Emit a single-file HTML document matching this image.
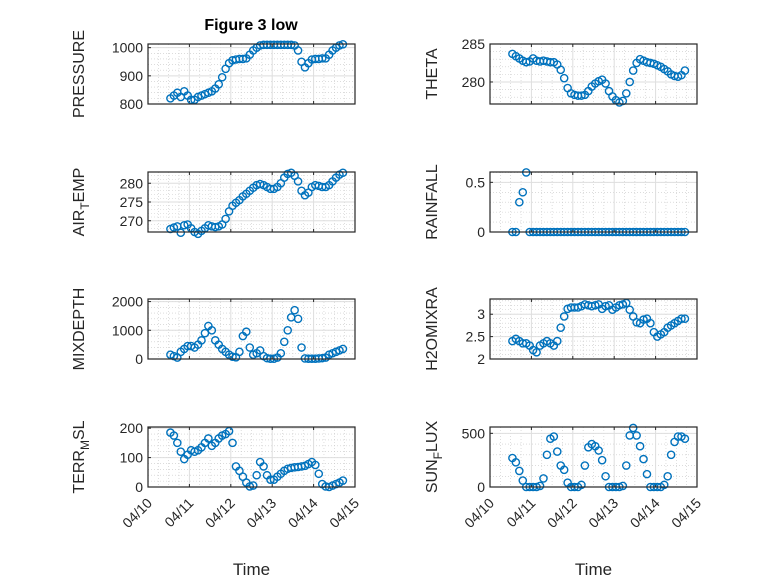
<!DOCTYPE html>
<html><head><meta charset="utf-8"><style>
body{margin:0;background:#fff}
svg text{font-family:"Liberation Sans",sans-serif;fill:#262626}
</style></head><body>
<svg id="fig" width="778" height="583" viewBox="0 0 778 583" xmlns="http://www.w3.org/2000/svg">
<rect width="778" height="583" fill="#fff"/>
<text x="251" y="30" text-anchor="middle" font-size="16" font-weight="bold" style="fill:#000">Figure 3 low</text>
</svg>
<script>
const hours=[13,15,17,19,21,23,25,27,29,31,33,35,37,39,41,43,45,47,49,51,53,55,57,59,61,63,65,67,69,71,73,75,77,79,81,83,85,87,89,91,93,95,97,99,101,103,105,107,109,111,113];
const xTickLabels=["04/10","04/11","04/12","04/13","04/14","04/15"];
const pressure=[820,830,840,825,845,830,815,815,825,830,835,840,845,855,870,895,925,945,955,958,960,960,962,975,990,1000,1008,1010,1010,1010,1010,1010,1010,1010,1010,1010,1008,990,950,930,945,958,960,960,962,962,975,990,1000,1008,1012];
const theta=[283.7,283.4,283.1,282.8,282.6,282.7,283.1,282.8,282.7,282.8,282.7,282.6,282.6,282.3,281.6,280.5,279.2,278.5,278.3,278.2,278.2,278.3,278.8,279.4,279.8,280.1,280.3,279.8,278.8,278.1,277.6,277.3,277.5,278.5,280.0,281.5,282.5,283.0,282.8,282.6,282.5,282.4,282.2,282.0,281.7,281.4,281.0,280.8,280.7,280.9,281.5];
const airTemp=[267.8,268.2,268.5,266.8,268.8,269.0,268.0,267.0,266.5,267.3,268.0,268.8,268.5,268.3,268.5,269.0,270.5,272.5,274.0,274.8,275.5,276.5,277.2,278.0,278.8,279.5,279.8,279.5,279.0,278.5,278.5,279.0,280.0,281.5,282.5,282.8,282.0,280.5,278.0,276.8,277.5,279.0,279.5,279.3,279.0,279.0,279.5,280.5,281.5,282.3,282.8];
const rainfall=[0,0,0.3,0.4,0.6,0,0,0,0,0,0,0,0,0,0,0,0,0,0,0,0,0,0,0,0,0,0,0,0,0,0,0,0,0,0,0,0,0,0,0,0,0,0,0,0,0,0,0,0,0,0];
const mixDepth=[150,100,50,250,350,450,450,400,500,650,900,1150,1000,650,500,350,250,150,80,60,250,800,950,400,150,200,300,100,30,10,10,50,200,600,1000,1450,1700,1400,400,20,10,10,10,20,30,50,150,200,250,300,350];
const h2oMix=[2.4,2.45,2.4,2.35,2.35,2.3,2.2,2.15,2.3,2.35,2.4,2.35,2.3,2.4,2.7,2.95,3.12,3.15,3.15,3.15,3.18,3.22,3.2,3.18,3.2,3.22,3.12,3.18,3.2,3.1,3.15,3.2,3.22,3.25,3.1,2.95,2.82,2.8,2.88,2.9,2.8,2.6,2.5,2.55,2.6,2.7,2.75,2.8,2.85,2.9,2.9];
const terrMsl=[185,175,150,120,95,110,125,120,125,135,150,165,140,150,165,175,180,190,150,70,55,35,15,2,5,40,85,70,40,25,25,35,45,55,62,65,67,68,70,72,78,85,75,45,10,2,0,5,10,15,22];
const sunFlux=[270,230,150,60,0,0,0,0,10,80,300,450,470,330,200,160,40,0,0,0,20,200,370,400,380,340,250,100,0,0,0,0,10,200,480,550,480,380,260,120,0,0,0,0,20,100,300,420,470,470,450];
const ticksPressure=[800,900,1000], ticksTheta=[280,285], ticksAir=[270,275,280], ticksRain=[0,0.5], ticksMix=[0,1000,2000], ticksH2o=[2,2.5,3], ticksTerr=[0,100,200], ticksSun=[0,500];

const NS="http://www.w3.org/2000/svg";
const svg=document.getElementById('fig');
function mk(tag,attrs,parent){const e=document.createElementNS(NS,tag);for(const k in attrs)e.setAttribute(k,attrs[k]);(parent||svg).appendChild(e);return e;}
const panels=[
 {name:'pressure',x:148,y:44,data:pressure,ymin:800,ymax:1013,ticks:ticksPressure,minor:20,label:['PRESSURE'],bottom:false,lo:64},
 {name:'theta',x:490,y:44,data:theta,ymin:277.1,ymax:285,ticks:ticksTheta,minor:1,label:['THETA'],bottom:false,lo:53},
 {name:'air-temp',x:148,y:172,data:airTemp,ymin:267,ymax:283,ticks:ticksAir,minor:1,label:['AIR','T','EMP'],bottom:false,lo:64},
 {name:'rainfall',x:490,y:172,data:rainfall,ymin:0,ymax:0.604,ticks:ticksRain,minor:0.1,label:['RAINFALL'],bottom:false,lo:53},
 {name:'mixdepth',x:148,y:299,data:mixDepth,ymin:0,ymax:2090,ticks:ticksMix,minor:200,label:['MIXDEPTH'],bottom:false,lo:64},
 {name:'h2omixra',x:490,y:299,data:h2oMix,ymin:2,ymax:3.34,ticks:ticksH2o,minor:0.1,label:['H2OMIXRA'],bottom:false,lo:53},
 {name:'terr-msl',x:148,y:427,data:terrMsl,ymin:0,ymax:204,ticks:ticksTerr,minor:20,label:['TERR','M','SL'],bottom:true,lo:64},
 {name:'sun-flux',x:490,y:427,data:sunFlux,ymin:0,ymax:559,ticks:ticksSun,minor:100,label:['SUN','F','LUX'],bottom:true,lo:53}
];
const W=207,H=60;
panels.forEach(p=>{
 const g=mk('g',{});
 
 
 const xs=d=>p.x+d/5*W;
 const ys=v=>p.y+H-(v-p.ymin)/(p.ymax-p.ymin)*H;
 mk('rect',{x:p.x,y:p.y,width:W,height:H,fill:'#fff'},g);
 for(let d=0;d<=5;d+=0.25){if(Math.abs(d-Math.round(d))<1e-6)continue;mk('line',{x1:xs(d),x2:xs(d),y1:p.y,y2:p.y+H,stroke:'#c8c8c8','stroke-width':0.6,'stroke-dasharray':'1,2'},g);}
 const m0=Math.ceil(p.ymin/p.minor)*p.minor;
 for(let v=m0;v<=p.ymax+1e-9;v+=p.minor){mk('line',{x1:p.x,x2:p.x+W,y1:ys(v),y2:ys(v),stroke:'#c8c8c8','stroke-width':0.6,'stroke-dasharray':'1,2'},g);}
 for(let d=1;d<5;d++)mk('line',{x1:xs(d),x2:xs(d),y1:p.y,y2:p.y+H,stroke:'#dedede','stroke-width':1},g);
 p.ticks.forEach(v=>{mk('line',{x1:p.x,x2:p.x+W,y1:ys(v),y2:ys(v),stroke:'#dedede','stroke-width':1},g);
   const t=mk('text',{x:p.x-5,y:ys(v)+5,'text-anchor':'end','font-size':14},g);t.textContent=v;
   
   
   mk('line',{x1:p.x,x2:p.x+3,y1:ys(v),y2:ys(v),stroke:'#262626'},g);});
 for(let d=0;d<=5;d++){mk('line',{x1:xs(d),x2:xs(d),y1:p.y+H,y2:p.y+H-3,stroke:'#262626'},g);mk('line',{x1:xs(d),x2:xs(d),y1:p.y,y2:p.y+3,stroke:'#262626'},g);}
 hours.forEach((h,i)=>{const c=mk('circle',{cx:xs(h/24),cy:ys(p.data[i]),r:3.6,fill:'none',stroke:'#0072bd','stroke-width':1.4},g);
   
   });
 mk('rect',{x:p.x,y:p.y,width:W,height:H,fill:'none',stroke:'#262626','stroke-width':1.2},g);
 const lx=p.x-p.lo, ly=p.y+H/2;
 const t=mk('text',{x:lx,y:ly,'text-anchor':'middle','font-size':16,transform:`rotate(-90 ${lx} ${ly})`},g);
 
 
 if(p.label.length===1)t.textContent=p.label[0];
 else{const a=mk('tspan',{},t);a.textContent=p.label[0];const b=mk('tspan',{dy:5,'font-size':12},t);b.textContent=p.label[1];const c=mk('tspan',{dy:-5},t);c.textContent=p.label[2];}
 if(p.bottom){
   xTickLabels.forEach((s,d)=>{const tx=xs(d)+5,ty=p.y+H+17;const tl=mk('text',{x:tx,y:ty,'text-anchor':'end','font-size':14,transform:`rotate(-45 ${tx} ${ty})`},g);tl.textContent=s;
     
     });
   const xt=mk('text',{x:p.x+W/2,y:575,'text-anchor':'middle','font-size':17},g);xt.textContent='Time';
   
   
 }
});
</script>
</body></html>
